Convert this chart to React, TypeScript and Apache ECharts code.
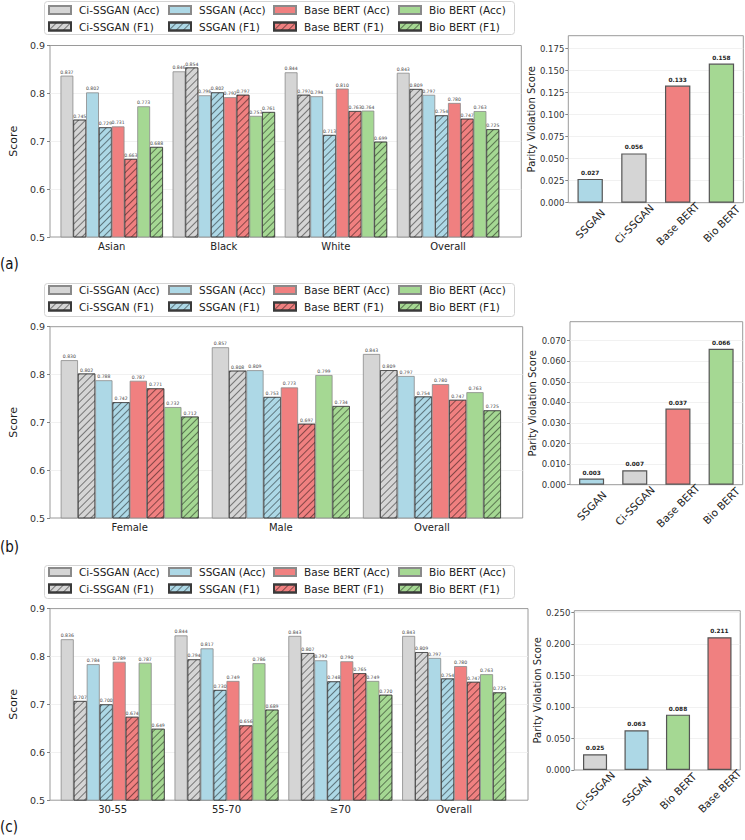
import React, { useEffect, useRef } from 'react';
import * as echarts from 'echarts';

// ---------- data ----------
const seriesNames = [
  'Ci-SSGAN (Acc)', 'Ci-SSGAN (F1)',
  'SSGAN (Acc)', 'SSGAN (F1)',
  'Base BERT (Acc)', 'Base BERT (F1)',
  'Bio BERT (Acc)', 'Bio BERT (F1)',
];

// (a) race
const raceCategories = ['Asian', 'Black', 'White', 'Overall'];
const raceCiAcc = [0.837, 0.846, 0.844, 0.843];
const raceCiF1 = [0.745, 0.854, 0.797, 0.809];
const raceSsAcc = [0.802, 0.796, 0.794, 0.797];
const raceSsF1 = [0.729, 0.802, 0.713, 0.754];
const raceBaseAcc = [0.731, 0.792, 0.810, 0.780];
const raceBaseF1 = [0.663, 0.797, 0.763, 0.747];
const raceBioAcc = [0.773, 0.753, 0.764, 0.763];
const raceBioF1 = [0.688, 0.761, 0.699, 0.725];

// (b) sex
const sexCategories = ['Female', 'Male', 'Overall'];
const sexCiAcc = [0.830, 0.857, 0.843];
const sexCiF1 = [0.802, 0.808, 0.809];
const sexSsAcc = [0.788, 0.809, 0.797];
const sexSsF1 = [0.742, 0.753, 0.754];
const sexBaseAcc = [0.787, 0.773, 0.780];
const sexBaseF1 = [0.771, 0.697, 0.747];
const sexBioAcc = [0.732, 0.799, 0.763];
const sexBioF1 = [0.712, 0.734, 0.725];

// (c) age
const ageCategories = ['30-55', '55-70', '≥70', 'Overall'];
const ageCiAcc = [0.836, 0.844, 0.843, 0.843];
const ageCiF1 = [0.707, 0.794, 0.807, 0.809];
const ageSsAcc = [0.784, 0.817, 0.792, 0.797];
const ageSsF1 = [0.700, 0.730, 0.748, 0.754];
const ageBaseAcc = [0.789, 0.749, 0.790, 0.780];
const ageBaseF1 = [0.674, 0.656, 0.765, 0.747];
const ageBioAcc = [0.787, 0.786, 0.749, 0.763];
const ageBioF1 = [0.649, 0.689, 0.720, 0.725];

// parity violation scores
const raceParityModels = ['SSGAN', 'Ci-SSGAN', 'Base BERT', 'Bio BERT'];
const raceParity = [0.027, 0.056, 0.133, 0.158];
const sexParityModels = ['SSGAN', 'Ci-SSGAN', 'Base BERT', 'Bio BERT'];
const sexParity = [0.003, 0.007, 0.037, 0.066];
const ageParityModels = ['Ci-SSGAN', 'SSGAN', 'Bio BERT', 'Base BERT'];
const ageParity = [0.025, 0.063, 0.088, 0.211];

const scoreMin = 0.5;
const scoreMax = 0.9;
const scoreStep = 0.1;

// ---------- styling ----------
const FONT = 'DejaVu Sans';
const modelColors: Record<string, string> = {
  'Ci-SSGAN': '#d5d5d5',
  'SSGAN': '#add8e6',
  'Base BERT': '#f08080',
  'Bio BERT': '#a5d893',
};
const modelOf = (name: string) => name.replace(/ \((Acc|F1)\)$/, '');
const isF1 = (name: string) => name.endsWith('(F1)');

// diagonal "///" hatching for the F1 bars
const hatch = {
  symbol: 'rect',
  symbolSize: 1,
  color: 'rgba(0,0,0,0.45)',
  dashArrayX: [1, 0],
  dashArrayY: [1, 3.5],
  rotation: -Math.PI / 4,
};

const FRAME = '#9a9a9a';
const GRIDLINE = '#eeeeee';

type Rect = { left: number; top: number; width: number; height: number };

const leftPanels = [
  {
    categories: raceCategories,
    columns: [raceCiAcc, raceCiF1, raceSsAcc, raceSsF1, raceBaseAcc, raceBaseF1, raceBioAcc, raceBioF1],
    frame: { left: 38.7, top: 45.5, width: 482.6, height: 191.5 } as Rect,
    barsLeft: 55.65, barsWidth: 448.4,
    legendRow: 4, box: 1,
    tag: '(a)', tagY: 265,
  },
  {
    categories: sexCategories,
    columns: [sexCiAcc, sexCiF1, sexSsAcc, sexSsF1, sexBaseAcc, sexBaseF1, sexBioAcc, sexBioF1],
    frame: { left: 38.7, top: 326.7, width: 484, height: 191.3 } as Rect,
    barsLeft: 54.15, barsWidth: 453.3,
    legendRow: 284, box: 283,
    tag: '(b)', tagY: 548,
  },
  {
    categories: ageCategories,
    columns: [ageCiAcc, ageCiF1, ageSsAcc, ageSsF1, ageBaseAcc, ageBaseF1, ageBioAcc, ageBioF1],
    frame: { left: 38.7, top: 608.6, width: 489.3, height: 191.6 } as Rect,
    barsLeft: 55.8, barsWidth: 455.2,
    legendRow: 566, box: 565,
    tag: '(c)', tagY: 828,
  },
];

const rightPanels = [
  { models: raceParityModels, values: raceParity, step: 0.025,
    frame: { left: 568.3, top: 35.7, width: 175, height: 167 } as Rect },
  { models: sexParityModels, values: sexParity, step: 0.01,
    frame: { left: 570, top: 321.7, width: 172.7, height: 163 } as Rect },
  { models: ageParityModels, values: ageParity, step: 0.05,
    frame: { left: 574.3, top: 610.7, width: 167.4, height: 159.3 } as Rect },
];

const legendColumns = [48, 168, 273, 398];

function buildOption() {
  const grid: any[] = [];
  const xAxis: any[] = [];
  const yAxis: any[] = [];
  const series: any[] = [];
  const legend: any[] = [];
  const graphic: any[] = [];

  leftPanels.forEach((p) => {
    // frame grid carrying the score axis
    const frameIdx = grid.length;
    grid.push({ ...p.frame, show: true, borderColor: FRAME, borderWidth: 1, backgroundColor: 'transparent' });
    xAxis.push({ gridIndex: frameIdx, type: 'value', show: false, min: 0, max: 1 });
    yAxis.push({
      gridIndex: frameIdx, type: 'value', min: scoreMin, max: scoreMax, interval: scoreStep,
      name: 'Score', nameLocation: 'middle', nameGap: 22, nameRotate: 90,
      nameTextStyle: { fontSize: 11, color: '#222', fontFamily: FONT },
      axisLine: { show: false },
      axisTick: { show: true, length: 3, lineStyle: { color: '#666', width: 0.8 } },
      axisLabel: { fontSize: 9.5, color: '#333', margin: 5, fontFamily: FONT, formatter: (v: number) => v.toFixed(1) },
      splitLine: { show: true, showMinLine: false, showMaxLine: false, lineStyle: { color: GRIDLINE, width: 0.8 } },
    });

    // bar grid with the categories
    const barIdx = grid.length;
    grid.push({ left: p.barsLeft, width: p.barsWidth, top: p.frame.top, height: p.frame.height });
    xAxis.push({
      gridIndex: barIdx, type: 'category', data: p.categories,
      axisLine: { show: false }, axisTick: { show: false },
      axisLabel: { fontSize: 10, color: '#222', margin: 4, fontFamily: FONT },
    });
    yAxis.push({ gridIndex: barIdx, type: 'value', min: scoreMin, max: scoreMax, show: false, splitLine: { show: false } });

    seriesNames.forEach((name, i) => {
      const f1 = isF1(name);
      series.push({
        type: 'bar', name, xAxisIndex: barIdx, yAxisIndex: barIdx,
        data: p.columns[i],
        barGap: '0%', barCategoryGap: '8.7%',
        itemStyle: {
          color: modelColors[modelOf(name)],
          borderColor: f1 ? '#3a3a3a' : '#8a8a8a',
          borderWidth: f1 ? 0.6 : 0.8,
          decal: f1 ? hatch : undefined,
        },
        label: {
          show: true, position: 'top', distance: 1, fontSize: 4.6, color: '#444', fontFamily: FONT,
          formatter: (prm: any) => Number(prm.value).toFixed(3),
        },
      });
    });

    // legend: four columns of two entries
    legendColumns.forEach((x, c) => {
      legend.push({
        left: x, top: p.legendRow, orient: 'vertical', padding: 0,
        itemWidth: 22, itemHeight: 8, itemGap: 4.5, selectedMode: false,
        icon: 'rect',
        data: [seriesNames[c * 2], seriesNames[c * 2 + 1]],
        textStyle: { fontSize: 10.5, color: '#222', fontFamily: FONT, lineHeight: 12, padding: [0, 0, 0, 3] },
      });
    });
    graphic.push({
      type: 'rect', left: 44, top: p.box, z: -1,
      shape: { width: 470, height: 33, r: 3 },
      style: { fill: '#fff', stroke: '#d4d4d4', lineWidth: 1 },
    });
    graphic.push({
      type: 'text', left: 0, top: p.tagY - 9,
      style: { text: p.tag, fontSize: 15, fill: '#111', fontFamily: "'Liberation Sans Narrow', 'DejaVu Sans Condensed', sans-serif" },
    });
  });

  rightPanels.forEach((p) => {
    const idx = grid.length;
    const top = Math.max(...p.values) * 1.2;
    grid.push({ ...p.frame, show: true, borderColor: FRAME, borderWidth: 1, backgroundColor: 'transparent' });
    xAxis.push({
      gridIndex: idx, type: 'category', data: p.models,
      axisLine: { show: false }, axisTick: { show: false },
      axisLabel: {
        rotate: 45, align: 'center', verticalAlign: 'middle', margin: 21,
        fontSize: 10.5, color: '#222', fontFamily: FONT,
      },
    });
    yAxis.push({
      gridIndex: idx, type: 'value', min: 0, max: top, interval: p.step,
      name: 'Parity Violation Score', nameLocation: 'middle', nameGap: 30, nameRotate: 90,
      nameTextStyle: { fontSize: 10, color: '#222', fontFamily: FONT },
      axisLine: { show: false },
      axisTick: { show: true, length: 3, lineStyle: { color: '#666', width: 0.8 } },
      axisLabel: { fontSize: 8.5, color: '#333', margin: 4, fontFamily: FONT, showMaxLabel: false,
        formatter: (v: number) => v.toFixed(3) },
      splitLine: { show: true, showMinLine: false, showMaxLine: false, lineStyle: { color: GRIDLINE, width: 0.8 } },
    });
    series.push({
      type: 'bar', xAxisIndex: idx, yAxisIndex: idx, barWidth: '58%',
      data: p.values.map((v, i) => ({
        value: v,
        itemStyle: { color: modelColors[p.models[i]], borderColor: '#555', borderWidth: 1.2 },
      })),
      label: {
        show: true, position: 'top', distance: 3, fontSize: 5.8, fontWeight: 'bold', color: '#222', fontFamily: FONT,
        formatter: (prm: any) => Number(prm.value).toFixed(3),
      },
    });
  });

  return {
    animation: false,
    backgroundColor: '#ffffff',
    textStyle: { fontFamily: FONT },
    grid, xAxis, yAxis, series, legend, graphic,
  };
}

export default function App() {
  const ref = useRef<HTMLDivElement>(null);
  useEffect(() => {
    if (!ref.current) return;
    const chart = echarts.init(ref.current, null, { renderer: 'svg' });
    chart.setOption(buildOption() as any);
    return () => chart.dispose();
  }, []);
  return (
    <div
      ref={ref}
      style={{ position: 'absolute', left: 0, top: 0, width: 745, height: 840, background: '#fff' }}
    />
  );
}
